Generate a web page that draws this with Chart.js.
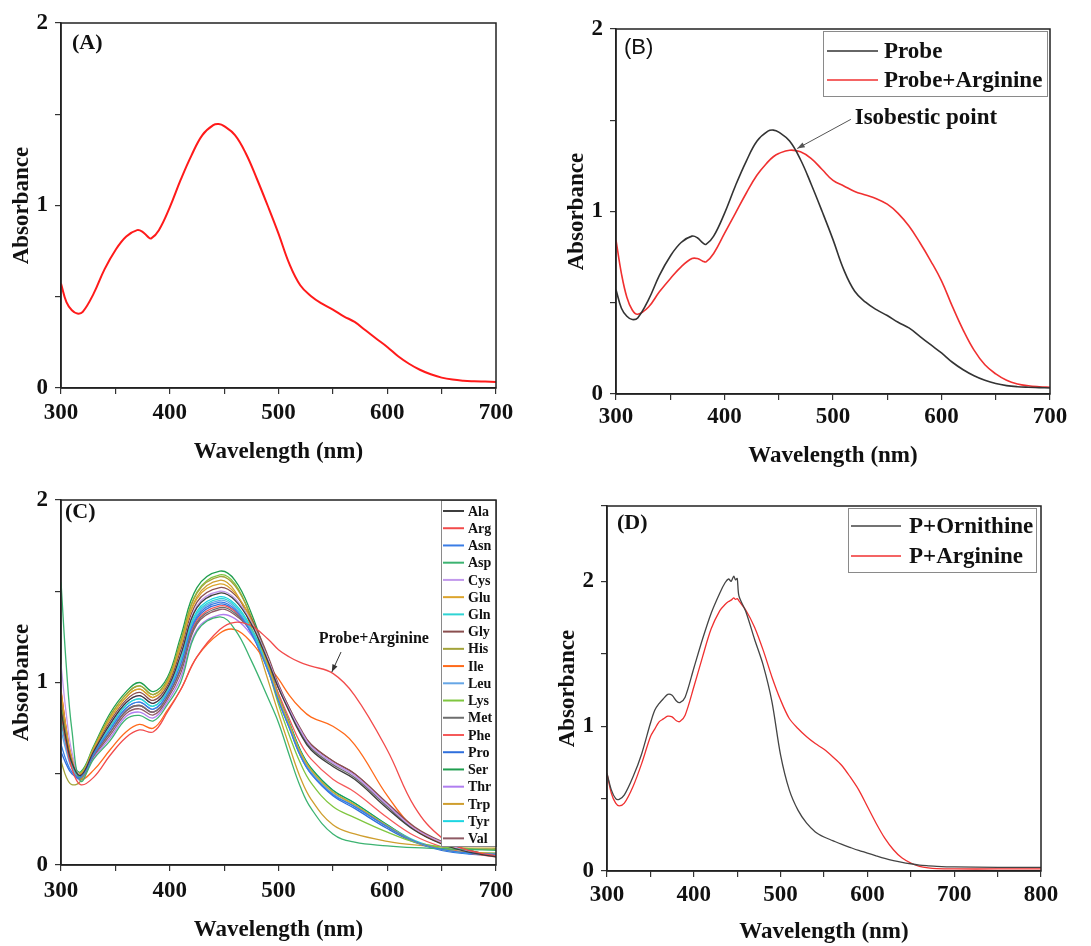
<!DOCTYPE html>
<html>
<head>
<meta charset="utf-8">
<script src="https://cdn.jsdelivr.net/npm/chart.js@4.4.1/dist/chart.umd.min.js"></script>
<style>
  body { margin: 0; background: #fff; }
  #wrap { position: relative; width: 1091px; height: 946px; background: #fff; }
  canvas { position: absolute; }
</style>
</head>
<body>
<div id="wrap">
  <canvas id="chartA" width="545" height="470" style="left:0;top:0"></canvas>
  <canvas id="chartB" width="546" height="470" style="left:545px;top:0"></canvas>
  <canvas id="chartC" width="545" height="476" style="left:0;top:470px"></canvas>
  <canvas id="chartD" width="546" height="476" style="left:545px;top:470px"></canvas>
</div>
<script>
// ---- panel A / B : probe alone and probe + arginine
const wavelengthsAB = [300,305,310,315,320,330,340,350,360,370,375,380,383,390,400,410,420,430,440,445,450,460,470,480,490,500,510,520,530,540,550,560,570,580,590,600,610,620,630,640,650,660,670,680,690,700];
const probeAbs = [.572,.47,.426,.408,.417,.517,.65,.755,.83,.865,.856,.828,.82,.865,.99,1.14,1.275,1.386,1.44,1.446,1.435,1.386,1.285,1.148,1.0,.846,.68,.563,.503,.462,.43,.393,.362,.316,.27,.225,.174,.133,.10,.075,.057,.046,.04,.037,.035,.033];
const probeArgAbs = [.843,.66,.53,.46,.437,.477,.56,.632,.697,.742,.742,.728,.724,.77,.88,.99,1.1,1.2,1.272,1.30,1.318,1.336,1.327,1.29,1.23,1.17,1.14,1.11,1.09,1.07,1.04,.99,.92,.83,.73,.62,.48,.35,.24,.16,.11,.075,.055,.045,.04,.037];

// ---- panel C : probe with 20 amino acids
const wavelengthsC = [300,305,310,318,330,345,360,372,385,398,410,425,446,460,475,490,500,510,520,530,550,570,600,625,650,675,700];
const ala = [.85,.68,.56,.49,.622,.77,.89,.928,.886,.97,1.15,1.41,1.49,1.45,1.32,1.12,.97,.84,.72,.63,.54,.47,.31,.19,.115,.07,.045];
const arg = [.84,.66,.53,.44,.48,.60,.70,.74,.73,.84,.96,1.14,1.29,1.33,1.31,1.24,1.18,1.14,1.11,1.09,1.05,.93,.63,.32,.15,.08,.05];
const asn = [.66,.57,.51,.48,.608,.74,.86,.892,.854,.94,1.10,1.36,1.44,1.40,1.27,1.07,.90,.75,.60,.50,.385,.32,.21,.13,.085,.065,.06];
const asp = [1.55,1.08,.74,.46,.58,.68,.80,.82,.79,.88,1.0,1.28,1.36,1.29,1.12,.92,.78,.60,.43,.31,.17,.125,.105,.095,.09,.085,.08];
const cys = [1.10,.82,.62,.49,.622,.77,.89,.928,.886,.97,1.15,1.42,1.50,1.46,1.33,1.13,.98,.85,.74,.65,.56,.49,.33,.20,.125,.075,.05];
const glu = [.95,.74,.59,.50,.636,.80,.92,.964,.918,1.0,1.20,1.46,1.54,1.49,1.34,1.10,.92,.77,.62,.52,.40,.33,.215,.13,.085,.07,.065];
const gln = [.82,.66,.55,.485,.615,.755,.875,.91,.87,.955,1.125,1.38,1.46,1.42,1.29,1.09,.92,.77,.62,.52,.40,.33,.215,.13,.085,.065,.06];
const gly = [.93,.73,.58,.495,.629,.785,.905,.946,.902,.985,1.175,1.44,1.52,1.48,1.35,1.15,.99,.86,.75,.66,.57,.50,.34,.21,.13,.08,.05];
const his = [.57,.48,.44,.46,.64,.815,.935,.982,.934,1.015,1.225,1.49,1.58,1.53,1.36,1.11,.92,.77,.62,.52,.40,.33,.21,.13,.09,.085,.09];
const ile = [.95,.74,.58,.47,.52,.63,.73,.77,.75,.85,.96,1.14,1.27,1.29,1.22,1.10,1.02,.93,.86,.81,.76,.66,.38,.20,.12,.08,.05];
const leu = [.74,.62,.53,.48,.608,.74,.86,.892,.854,.94,1.10,1.37,1.45,1.41,1.28,1.08,.91,.76,.61,.51,.39,.32,.21,.13,.085,.065,.06];
const lys = [.88,.70,.57,.505,.643,.815,.935,.982,.934,1.015,1.225,1.496,1.59,1.54,1.35,1.08,.88,.71,.56,.45,.32,.26,.18,.125,.10,.09,.085];
const met = [.88,.69,.56,.475,.601,.725,.845,.874,.838,.925,1.075,1.33,1.41,1.38,1.28,1.11,.97,.85,.73,.64,.55,.48,.32,.195,.12,.075,.05];
const phe = [.96,.74,.59,.475,.601,.725,.845,.874,.838,.925,1.075,1.34,1.42,1.39,1.28,1.09,.94,.80,.67,.58,.47,.40,.26,.16,.10,.065,.045];
const pro = [.62,.55,.50,.475,.601,.725,.845,.874,.838,.925,1.075,1.35,1.43,1.39,1.27,1.07,.90,.75,.60,.50,.38,.31,.20,.125,.08,.06,.055];
const ser = [.80,.66,.56,.51,.65,.83,.95,1.00,.95,1.03,1.25,1.52,1.61,1.56,1.38,1.12,.93,.78,.63,.53,.41,.34,.22,.13,.085,.065,.055];
const thr = [.80,.64,.54,.465,.587,.695,.815,.838,.806,.895,1.025,1.29,1.37,1.35,1.26,1.10,.97,.85,.74,.65,.56,.49,.325,.20,.12,.075,.05];
const trp = [.92,.72,.58,.50,.636,.80,.92,.964,.918,1.0,1.20,1.47,1.56,1.50,1.30,1.02,.83,.65,.48,.36,.22,.17,.13,.11,.10,.10,.10];
const tyr = [.78,.64,.54,.485,.615,.755,.875,.91,.87,.955,1.125,1.39,1.47,1.43,1.30,1.10,.93,.78,.63,.53,.41,.34,.22,.135,.09,.07,.065];
const val = [.90,.70,.57,.47,.594,.71,.83,.856,.822,.91,1.05,1.32,1.40,1.37,1.28,1.12,.98,.86,.74,.66,.57,.50,.335,.205,.125,.08,.05];
const aminoLabels = ['Ala','Arg','Asn','Asp','Cys','Glu','Gln','Gly','His','Ile','Leu','Lys','Met','Phe','Pro','Ser','Thr','Trp','Tyr','Val'];
const aminoSeries = [ala,arg,asn,asp,cys,glu,gln,gly,his,ile,leu,lys,met,phe,pro,ser,thr,trp,tyr,val];
const aminoColors = ['#3d3d3d','#f24b4b','#3a7de6','#3cb371','#c299ec','#dca42c','#2fd4d4','#8a4f4f','#a3a33a','#ff6a1a','#66a6e6','#7fc63f','#6e6e6e','#f55a5a','#2f6fdc','#1f9e4f','#b07ef0','#cf9e2e','#1cd6e2','#8f5a64'];

// ---- panel D : ornithine vs arginine
const wavelengthsD = [300,305,310,314,320,330,340,350,355,360,365,370,375,380,384,390,400,410,420,430,436,440,443,446,448,450,452,460,470,480,490,500,510,520,530,540,550,560,570,580,590,600,610,620,630,640,650,660,670,680,700,750,800];
const ornithineAbs = [.674,.56,.50,.495,.525,.65,.81,1.02,1.11,1.156,1.19,1.22,1.213,1.174,1.163,1.2,1.40,1.60,1.78,1.92,1.99,2.016,2.0,2.035,2.01,2.02,1.9,1.79,1.60,1.42,1.17,.80,.56,.42,.33,.27,.235,.21,.185,.163,.142,.124,.105,.087,.072,.06,.05,.041,.036,.032,.028,.025,.025];
const argininePAbs = [.674,.537,.468,.45,.468,.583,.743,.927,.98,1.03,1.05,1.069,1.064,1.037,1.032,1.076,1.27,1.477,1.672,1.798,1.84,1.86,1.87,1.885,1.875,1.88,1.865,1.80,1.683,1.523,1.34,1.18,1.053,.984,.927,.88,.84,.789,.732,.651,.56,.445,.33,.227,.147,.089,.055,.032,.021,.016,.014,.014,.014];

const serif = "'Liberation Serif', 'Times New Roman', serif";

function pts(xs, ys) {
    return xs.map((x, i) => ({ x: x, y: ys[i] }));
}

const decor = {
    id: 'decor',
    afterDatasetsDraw(chart, args, opts) {
        const { ctx, chartArea: a } = chart;
        const sx = chart.scales.x, sy = chart.scales.y;
        ctx.save();
        // notes with arrows
        (opts.notes || []).forEach(n => {
            ctx.fillStyle = '#111';
            ctx.font = n.font;
            ctx.textAlign = 'left';
            ctx.textBaseline = 'middle';
            ctx.fillText(n.text, sx.getPixelForValue(n.at[0]), sy.getPixelForValue(n.at[1]));
            const x0 = sx.getPixelForValue(n.from[0]), y0 = sy.getPixelForValue(n.from[1]);
            const x1 = sx.getPixelForValue(n.to[0]), y1 = sy.getPixelForValue(n.to[1]);
            ctx.strokeStyle = n.color; ctx.fillStyle = n.color; ctx.lineWidth = 1;
            ctx.beginPath(); ctx.moveTo(x0, y0); ctx.lineTo(x1, y1); ctx.stroke();
            const ang = Math.atan2(y1 - y0, x1 - x0);
            ctx.beginPath();
            ctx.moveTo(x1, y1);
            ctx.lineTo(x1 - 8 * Math.cos(ang - 0.35), y1 - 8 * Math.sin(ang - 0.35));
            ctx.lineTo(x1 - 8 * Math.cos(ang + 0.35), y1 - 8 * Math.sin(ang + 0.35));
            ctx.closePath(); ctx.fill();
        });
        // legend box
        if (opts.legend) {
            const L = opts.legend;
            const bx = a.right - L.right, by = a.top + L.top;
            ctx.fillStyle = '#fff';
            ctx.fillRect(bx, by, L.w, L.h);
            ctx.strokeStyle = '#8a8a8a'; ctx.lineWidth = 1;
            ctx.strokeRect(bx + 0.5, by + 0.5, L.w, L.h);
            ctx.font = L.font; ctx.textBaseline = 'middle'; ctx.textAlign = 'left';
            chart.data.datasets.forEach((ds, i) => {
                const ry = by + L.first + i * L.step;
                ctx.strokeStyle = ds.borderColor; ctx.lineWidth = L.lw;
                ctx.beginPath(); ctx.moveTo(bx + L.x0, ry); ctx.lineTo(bx + L.x1, ry); ctx.stroke();
                ctx.fillStyle = '#111';
                ctx.fillText(ds.label, bx + L.tx, ry + 1);
            });
        }
        // frame
        ctx.strokeStyle = '#222'; ctx.lineWidth = 1.5;
        ctx.strokeRect(a.left, a.top, a.right - a.left, a.bottom - a.top);
        // panel tag
        ctx.fillStyle = '#111';
        ctx.font = opts.tagFont;
        ctx.textAlign = 'left'; ctx.textBaseline = 'middle';
        ctx.fillText(opts.tag, a.left + opts.tagDx, a.top + opts.tagDy);
        ctx.restore();
    }
};

function makeChart(id, datasets, cfg) {
    return new Chart(document.getElementById(id), {
        type: 'line',
        data: { datasets: datasets },
        plugins: [decor],
        options: {
            responsive: false,
            animation: false,
            devicePixelRatio: 1,
            layout: { padding: cfg.pad },
            elements: { point: { radius: 0 }, line: { tension: 0.4, fill: false } },
            plugins: {
                legend: { display: false },
                tooltip: { enabled: false },
                decor: cfg.decor
            },
            scales: {
                x: {
                    type: 'linear',
                    min: 300,
                    max: cfg.xMax,
                    afterFit: s => { s.height = cfg.xH; },
                    grid: { drawOnChartArea: false, drawTicks: true, tickLength: 6, color: '#333', lineWidth: 1.2 },
                    border: { display: true, color: '#222', width: 1.5 },
                    ticks: {
                        stepSize: 50,
                        autoSkip: false,
                        maxRotation: 0,
                        padding: cfg.xTickPad,
                        color: '#111',
                        font: { family: serif, size: 23, weight: 'bold' },
                        callback: v => (v % 100 === 0 ? v : '')
                    },
                    title: {
                        display: true,
                        text: 'Wavelength (nm)',
                        color: '#111',
                        font: { family: serif, size: 23, weight: 'bold' },
                        padding: { top: 0, bottom: cfg.xTitlePad }
                    }
                },
                y: {
                    min: 0,
                    max: cfg.yMax,
                    afterFit: s => { s.width = cfg.yW; },
                    grid: { drawOnChartArea: false, drawTicks: true, tickLength: 6, color: '#333', lineWidth: 1.2 },
                    border: { display: true, color: '#222', width: 1.5 },
                    ticks: {
                        stepSize: 0.5,
                        autoSkip: false,
                        padding: 7,
                        color: '#111',
                        font: { family: serif, size: 23, weight: 'bold' },
                        callback: v => (Number.isInteger(v) ? v : '')
                    },
                    title: {
                        display: true,
                        text: 'Absorbance',
                        color: '#111',
                        font: { family: serif, size: 23, weight: 'bold' },
                        padding: { top: cfg.yTitlePad, bottom: 0 }
                    }
                }
            }
        }
    });
}

// (A)
makeChart('chartA', [
    { label: 'Probe', data: pts(wavelengthsAB, probeAbs), borderColor: '#ff1a1a', borderWidth: 2 }
], {
    pad: { left: 0, right: 49, top: 23, bottom: 0 }, xMax: 700, yMax: 2,
    xH: 82, yW: 61, xTickPad: 5, xTitlePad: 4, yTitlePad: 8,
    decor: { tag: '(A)', tagFont: 'bold 22px ' + serif, tagDx: 11, tagDy: 20 }
});

// (B)
makeChart('chartB', [
    { label: 'Probe', data: pts(wavelengthsAB, probeAbs), borderColor: '#333333', borderWidth: 1.6 },
    { label: 'Probe+Arginine', data: pts(wavelengthsAB, probeArgAbs), borderColor: '#f03030', borderWidth: 1.6 }
], {
    pad: { left: 0, right: 41, top: 29, bottom: 0 }, xMax: 700, yMax: 2,
    xH: 76, yW: 71, xTickPad: 3, xTitlePad: 0, yTitlePad: 18,
    decor: {
        tag: '(B)', tagFont: "22px 'Liberation Sans', Arial, sans-serif", tagDx: 8, tagDy: 19,
        legend: { right: 227, top: 2, w: 224, h: 65, first: 20, step: 29, x0: 4, x1: 55, tx: 61, lw: 1.6,
                  font: 'bold 23px ' + serif },
        notes: [{ text: 'Isobestic point', font: 'bold 23px ' + serif, at: [520, 1.51],
                  from: [516.5, 1.505], to: [467, 1.345], color: '#555' }]
    }
});

// (C)
makeChart('chartC', aminoLabels.map((name, i) => ({
    label: name, data: pts(wavelengthsC, aminoSeries[i]), borderColor: aminoColors[i], borderWidth: 1.3
})), {
    pad: { left: 0, right: 49, top: 30, bottom: 0 }, xMax: 700, yMax: 2,
    xH: 81, yW: 61, xTickPad: 6, xTitlePad: 2, yTitlePad: 8,
    decor: {
        tag: '(C)', tagFont: 'bold 22px ' + serif, tagDx: 4, tagDy: 12,
        legend: { right: 55, top: 0, w: 55, h: 346, first: 11, step: 17.23, x0: 2, x1: 23, tx: 27, lw: 2,
                  font: 'bold 14px ' + serif },
        notes: [{ text: 'Probe+Arginine', font: 'bold 16px ' + serif, at: [537, 1.24],
                  from: [557.5, 1.167], to: [549, 1.057], color: '#333' }]
    }
});

// (D)
makeChart('chartD', [
    { label: 'P+Ornithine', data: pts(wavelengthsD, ornithineAbs), borderColor: '#444444', borderWidth: 1.3, tension: 0.3 },
    { label: 'P+Arginine', data: pts(wavelengthsD, argininePAbs), borderColor: '#f03030', borderWidth: 1.3, tension: 0.3 }
], {
    pad: { left: 0, right: 50, top: 36, bottom: 0 }, xMax: 800, yMax: 2.52,
    xH: 75, yW: 62, xTickPad: 4, xTitlePad: 0, yTitlePad: 9,
    decor: {
        tag: '(D)', tagFont: 'bold 22px ' + serif, tagDx: 10, tagDy: 17,
        legend: { right: 193, top: 2, w: 188, h: 64, first: 18, step: 30, x0: 3, x1: 53, tx: 61, lw: 1.3,
                  font: 'bold 23px ' + serif }
    }
});
</script>
</body>
</html>
